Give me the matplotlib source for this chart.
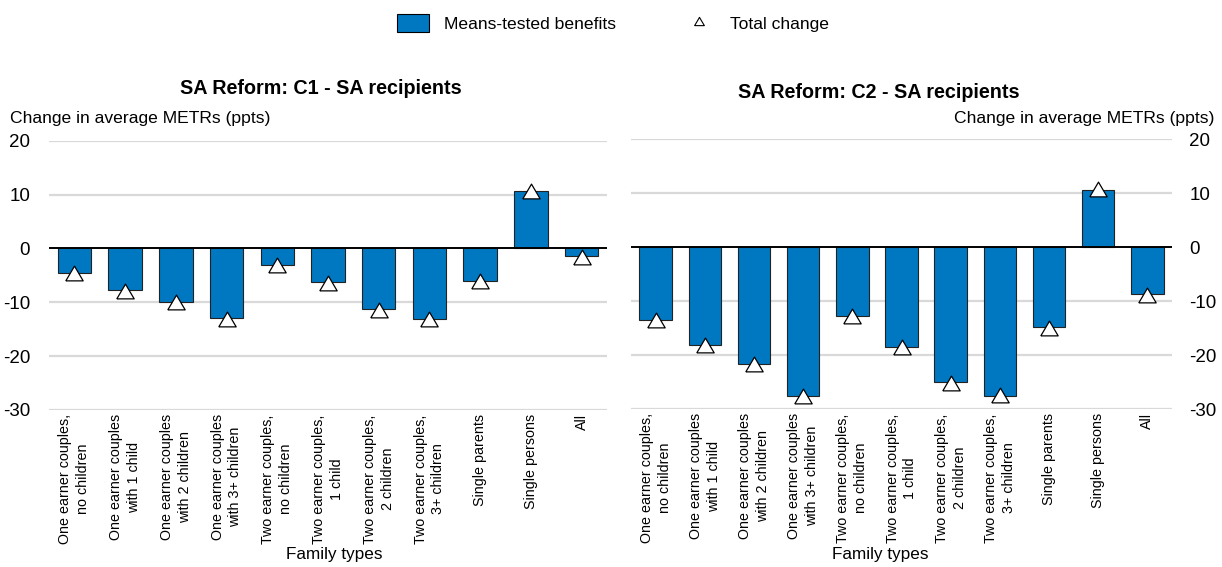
import matplotlib
matplotlib.use("Agg")
import matplotlib.pyplot as plt
from matplotlib.patches import Patch
from matplotlib.lines import Line2D
import numpy as np

plt.rcParams['font.family'] = ['Liberation Sans', 'DejaVu Sans']

categories = [
    "One earner couples,\nno children",
    "One earner couples\nwith 1 child",
    "One earner couples\nwith 2 children",
    "One earner couples\nwith 3+ children",
    "Two earner couples,\nno children",
    "Two earner couples,\n1 child",
    "Two earner couples,\n2 children",
    "Two earner couples,\n3+ children",
    "Single parents",
    "Single persons",
    "All",
]

# C1 - SA recipients
c1_means_tested = [-4.5, -7.8, -10.0, -13.0, -3.1, -6.3, -11.3, -13.1, -6.1, 10.65, -1.5]
c1_total = [-4.55, -7.85, -9.95, -13.05, -3.15, -6.4, -11.4, -13.05, -6.1, 10.75, -1.65]

# C2 - SA recipients
c2_means_tested = [-13.6, -18.1, -21.7, -27.6, -12.8, -18.5, -25.0, -27.5, -14.9, 10.6, -8.7]
c2_total = [-13.6, -18.1, -21.7, -27.55, -12.75, -18.45, -25.1, -27.4, -14.95, 10.65, -8.8]

yticks = [20, 10, 0, -10, -20, -30]

BAR_COLOR = "#0078c1"
GRID_COLOR = "#d9d9d9"
TRI = [(-1, -0.85), (1, -0.85), (0, 0.85), (-1, -0.85)]


def draw_panel(ax, bars, totals, pad):
    x = np.arange(len(categories))
    ax.bar(x, bars, width=0.66, color=BAR_COLOR, edgecolor="#222222", linewidth=0.8, zorder=3)
    ax.plot(x, totals, linestyle="none", marker=TRI, markersize=12.5,
            markerfacecolor="white", markeredgecolor="black", markeredgewidth=0.9, zorder=4)
    ax.set_xlim(-0.5, len(categories) - 0.5)
    ax.set_ylim(-30, 20)
    ax.set_yticks(yticks)
    ax.set_yticklabels([str(t) for t in yticks])
    for t in yticks:
        if t != 0:
            ax.axhline(t, color=GRID_COLOR, linewidth=1.6, zorder=1)
    ax.axhline(0, color="black", linewidth=1.4, zorder=5)
    for s in ax.spines.values():
        s.set_visible(False)
    ax.set_xticks(x)
    ax.set_xticklabels(categories, rotation=90, fontsize=10.3, ha="center", va="top",
                       multialignment="center", linespacing=1.35)
    ax.tick_params(axis="both", length=0)
    ax.tick_params(axis="x", pad=3)
    ax.tick_params(axis="y", labelsize=13.5, pad=pad)


fig = plt.figure(figsize=(12.22, 5.67), dpi=100)

ax1 = fig.add_axes([49 / 1222, 1 - 410 / 567, 558 / 1222, 269.3 / 567])
ax2 = fig.add_axes([631 / 1222, 1 - 409 / 567, 541 / 1222, 270 / 567])

draw_panel(ax1, c1_means_tested, c1_total, 13.5)
draw_panel(ax2, c2_means_tested, c2_total, 12.5)
ax2.yaxis.tick_right()
for lab in ax2.get_yticklabels():
    lab.set_horizontalalignment("left")

fig.text(321 / 1222, 1 - 89 / 567, "SA Reform: C1 - SA recipients", ha="center", va="center",
         fontsize=14.2, fontweight="bold")
fig.text(879 / 1222, 1 - 92 / 567, "SA Reform: C2 - SA recipients", ha="center", va="center",
         fontsize=14.2, fontweight="bold")
fig.text(10 / 1222, 1 - 118 / 567, "Change in average METRs (ppts)", ha="left", va="center", fontsize=12.6)
fig.text(1214 / 1222, 1 - 118 / 567, "Change in average METRs (ppts)", ha="right", va="center", fontsize=12.6)
fig.text(334 / 1222, 1 - 555 / 567, "Family types", ha="center", va="center", fontsize=12.3)
fig.text(880 / 1222, 1 - 555 / 567, "Family types", ha="center", va="center", fontsize=12.3)

handles = [
    Patch(facecolor=BAR_COLOR, edgecolor="black", linewidth=0.8),
    Line2D([], [], linestyle="none", marker=TRI, markersize=7,
           markerfacecolor="white", markeredgecolor="black", markeredgewidth=0.8),
]
fig.legend(handles, ["Means-tested benefits", "Total change"], loc="center",
           bbox_to_anchor=(0.5015, 1 - 23 / 567), ncol=2, frameon=False, fontsize=12.6,
           handlelength=1.83, handleheight=1.26, handletextpad=0.86, columnspacing=3.8)

fig.savefig("out.png", dpi=100)
